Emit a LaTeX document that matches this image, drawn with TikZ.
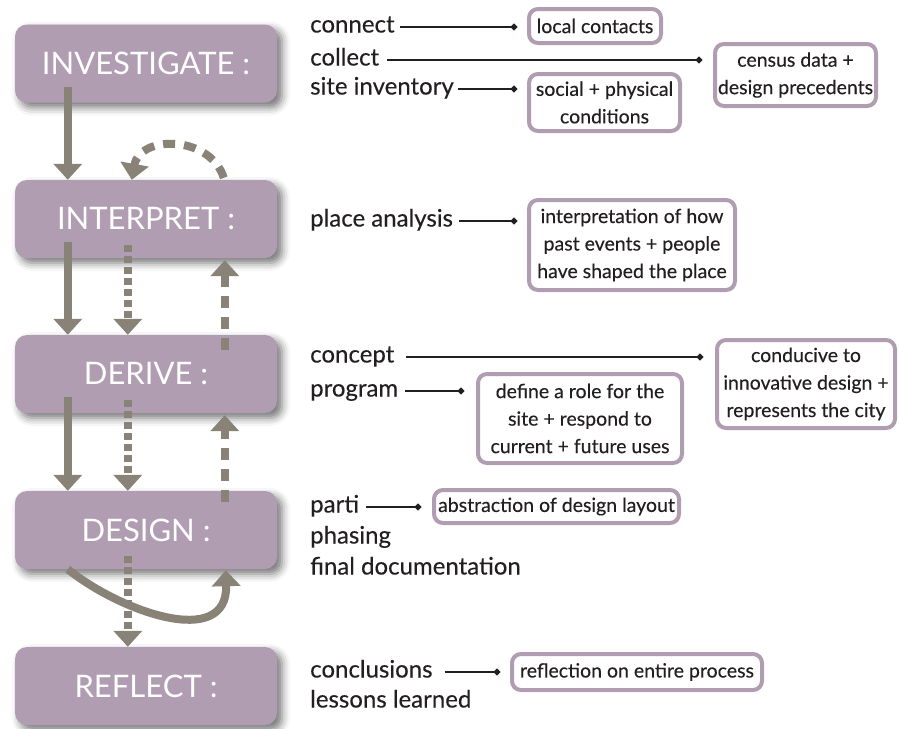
\documentclass[tikz,border=0pt]{standalone}
\usepackage{fontspec}
\setmainfont{Lato}
\newfontfamily\itemfont{Lato}[FakeBold=0.25]
\usetikzlibrary{arrows.meta,shadows.blur,calc}
\definecolor{boxpurple}{RGB}{177,157,178}
\definecolor{arrowgray}{RGB}{137,130,119}
\definecolor{ink}{RGB}{35,31,32}
\begin{document}
\begin{tikzpicture}[x=1pt,y=-1pt,
  stage/.style={fill=boxpurple, rounded corners=12pt, minimum width=262pt, minimum height=78pt,
    text=white, font=\fontsize{31}{36}\selectfont, inner sep=0pt,
    blur shadow={shadow xshift=5pt, shadow yshift=-5pt, shadow blur radius=8pt, shadow opacity=55}},
  item/.style={anchor=west, inner sep=0pt, text=ink, text height=16pt, text depth=5pt,
    font=\itemfont\fontsize{24}{28}\selectfont},
  note/.style={draw=boxpurple, line width=4pt, rounded corners=9pt, fill=white, text=ink,
    align=center, font=\itemfont\fontsize{19.5}{27.5}\selectfont, inner sep=0pt},
  link/.style={draw=ink, line width=2.6pt, -{Circle[length=6pt]}},
  flow/.style={draw=arrowgray, line width=8pt, -{Triangle[width=28pt,length=16pt]}},
  dotflow/.style={flow, dash pattern=on 7pt off 4pt},
  dashflow/.style={flow, dash pattern=on 12pt off 9pt},
]
\useasboundingbox (0,0) rectangle (899,728);

% stage boxes
\node[stage] (inv) at (146,63.5) {INVESTIGATE :};
\node[stage] (int) at (146,219) {INTERPRET :};
\node[stage] (der) at (146,374) {DERIVE :};
\node[stage] (des) at (146,530) {DESIGN :};
\node[stage] (ref) at (146,686) {REFLECT :};

% flow arrows
\draw[flow] ([xshift=53pt,yshift=16pt]inv.south west) -- ([xshift=53pt]int.north west);
\draw[flow] ([xshift=53pt,yshift=16pt]int.south west) -- ([xshift=53pt]der.north west);
\draw[flow] ([xshift=53pt,yshift=16pt]der.south west) -- ([xshift=53pt]des.north west);
\draw[dotflow] ([xshift=113pt,yshift=13pt]int.south west) -- ([xshift=113pt]der.north west);
\draw[dotflow] ([xshift=113pt,yshift=13pt]der.south west) -- ([xshift=113pt]des.north west);
\draw[dotflow] ([xshift=113pt,yshift=13pt]des.south west) -- ([xshift=113pt]ref.north west);
\draw[dashflow] ([xshift=210pt,yshift=-15pt]der.north west) -- ([xshift=210pt,yshift=-2pt]int.south west);
\draw[dashflow] ([xshift=210pt,yshift=-11pt]des.north west) -- ([xshift=210pt,yshift=-2pt]der.south west);
\draw[dashflow] ([xshift=209pt,yshift=2pt]int.north west) .. controls +(-14,-43) and +(8,-45) .. ([xshift=117pt]int.north west);
\draw[flow] ([xshift=53pt]des.south west) .. controls +(52,42) and +(2,80) .. ([xshift=211pt,yshift=-1pt]des.south west);

% item texts
\node[item] (connect) at (310,27) {connect};
\node[item] (collect) at (310,60) {collect};
\node[item] (site) at (310,89) {site inventory};
\node[item] (place) at (310,221) {place analysis};
\node[item] (concept) at (310,357) {concept};
\node[item] (program) at (310,391) {program};
\node[item] (parti) at (310,507) {parti};
\node[item] (phasing) at (310,538) {phasing};
\node[item] (finaldoc) at (310,569) {final documentation};
\node[item] (concl) at (310,672) {conclusions};
\node[item] (lessons) at (310,702) {lessons learned};

% notes
\node[note, minimum width=132pt, minimum height=34pt] (local) at (595,26) {local contacts};
\node[note, minimum width=151pt, minimum height=57pt] (social) at (604.5,102.5) {social + physical\\conditions};
\node[note, minimum width=161pt, minimum height=62pt] (census) at (795.5,75) {census data +\\design precedents};
\node[note, minimum width=206pt, minimum height=90pt] (interp) at (632,245) {interpretation of how\\past events + people\\have shaped the place};
\node[note, minimum width=178pt, minimum height=88pt] (conducive) at (806,384) {conducive to\\innovative design +\\represents the city};
\node[note, minimum width=204pt, minimum height=89pt] (define) at (580,418.5) {define a role for the\\site + respond to\\current + future uses};
\node[note, minimum width=245pt, minimum height=33pt] (abstr) at (556.5,506.5) {abstraction of design layout};
\node[note, minimum width=250pt, minimum height=36pt] (reflnote) at (637,672) {reflection on entire process};

% links
\draw[link] ([xshift=5pt]connect.east) -- ($(local.west |- connect.east)+(-10,0)$);
\draw[link] ([xshift=8pt]collect.east) -- ($(census.west |- collect.east)+(-11,0)$);
\draw[link] ([xshift=4pt]site.east) -- ($(social.west |- site.east)+(-10,0)$);
\draw[link] ([xshift=6pt]place.east) -- ($(interp.west |- place.east)+(-10,0)$);
\draw[link] ([xshift=12pt]concept.east) -- ($(conducive.west |- concept.east)+(-12,0)$);
\draw[link] ([xshift=7pt]program.east) -- ($(define.west |- program.east)+(-12,0)$);
\draw[link] ([xshift=7pt]parti.east) -- ($(abstr.west |- parti.east)+(-11,0)$);
\draw[link] ([xshift=12pt]concl.east) -- ($(reflnote.west |- concl.east)+(-10,0)$);
\end{tikzpicture}
\end{document}
